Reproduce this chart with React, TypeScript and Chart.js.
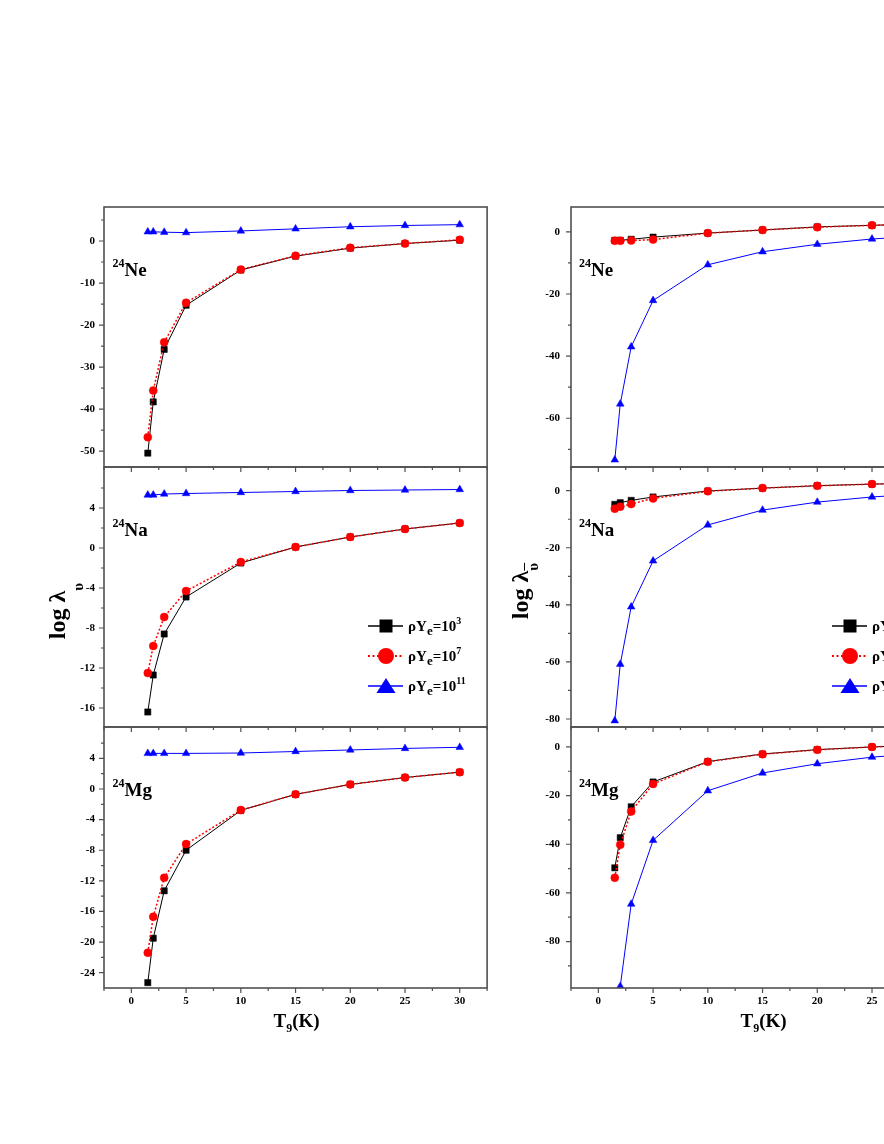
import React, { useEffect, useRef } from "react";
import { Chart, registerables } from "chart.js";

Chart.register(...registerables);

// ---------------- data ----------------
const T9 = [1.5, 2, 3, 5, 10, 15, 20, 25, 30];
const X_MIN = -2.5;
const X_MAX = 32.5;
const X_MAJOR_TICKS = [0, 5, 10, 15, 20, 25, 30];
const X_MINOR_TICKS = [-2.5, 2.5, 7.5, 12.5, 17.5, 22.5, 27.5, 32.5];
const DENSITY_EXPONENTS = ["3", "7", "11"];
const NUCLEI = ["Ne", "Na", "Mg"];
const MASS_NUMBER = "24";

// log lambda_nu  (left column)
const neNu1e3 = [-50.5, -38.3, -25.8, -15.3, -6.9, -3.6, -1.7, -0.6, 0.2];
const neNu1e7 = [-46.7, -35.6, -24.1, -14.7, -6.8, -3.5, -1.6, -0.6, 0.3];
const neNu1e11 = [2.2, 2.2, 2.1, 2.0, 2.4, 2.9, 3.4, 3.7, 3.9];

const naNu1e3 = [-16.4, -12.7, -8.6, -4.9, -1.5, 0.1, 1.1, 1.9, 2.5];
const naNu1e7 = [-12.5, -9.8, -6.9, -4.3, -1.4, 0.1, 1.1, 1.9, 2.5];
const naNu1e11 = [5.3, 5.3, 5.4, 5.45, 5.55, 5.65, 5.75, 5.8, 5.85];

const mgNu1e3 = [-25.3, -19.5, -13.3, -8.0, -2.8, -0.7, 0.6, 1.5, 2.2];
const mgNu1e7 = [-21.4, -16.7, -11.6, -7.2, -2.75, -0.7, 0.6, 1.5, 2.2];
const mgNu1e11 = [4.65, 4.65, 4.65, 4.65, 4.7, 4.9, 5.1, 5.3, 5.45];

// log lambda_antinu  (right column)
const neAnu1e3 = [-2.7, -2.7, -2.4, -1.7, -0.4, 0.6, 1.6, 2.1, 2.6];
const neAnu1e7 = [-2.9, -2.9, -2.8, -2.5, -0.4, 0.6, 1.5, 2.1, 2.6];
const neAnu1e11 = [-73.4, -55.4, -37.0, -22.1, -10.6, -6.4, -4.0, -2.3, -1.2];

const naAnu1e3 = [-4.8, -4.2, -3.4, -2.2, -0.1, 0.9, 1.75, 2.3, 2.7];
const naAnu1e7 = [-6.3, -5.6, -4.7, -2.7, -0.2, 0.9, 1.7, 2.3, 2.7];
const naAnu1e11 = [-80.6, -60.8, -40.7, -24.6, -12.0, -6.8, -4.0, -2.2, -1.0];

const mgAnu1e3 = [-49.7, -37.3, -24.6, -14.4, -6.0, -2.9, -1.1, 0.0, 0.8];
const mgAnu1e7 = [-53.8, -40.2, -26.5, -15.2, -6.1, -3.0, -1.2, 0.0, 0.8];
const mgAnu1e11 = [null, -98.4, -64.6, -38.4, -18.0, -10.7, -6.9, -4.2, -2.5];

// y tick values
const NE_NU_MAJOR = [0, -10, -20, -30, -40, -50];
const NE_NU_MINOR = [5, -5, -15, -25, -35, -45];
const NA_NU_MAJOR = [4, 0, -4, -8, -12, -16];
const NA_NU_MINOR = [6, 2, -2, -6, -10, -14];
const MG_NU_MAJOR = [4, 0, -4, -8, -12, -16, -20, -24];
const MG_NU_MINOR = [6, 2, -2, -6, -10, -14, -18, -22];
const NE_ANU_MAJOR = [0, -20, -40, -60];
const NE_ANU_MINOR = [-10, -30, -50, -70];
const NA_ANU_MAJOR = [0, -20, -40, -60, -80];
const NA_ANU_MINOR = [-10, -30, -50, -70];
const MG_ANU_MAJOR = [0, -20, -40, -60, -80];
const MG_ANU_MINOR = [-10, -30, -50, -70, -90];

// ---------------- styling / layout ----------------
const FONT = "'Liberation Serif', 'Times New Roman', serif";
const BLACK = "#000000";
const RED = "#ff0000";
const BLUE = "#0000ff";
const FRAME = "#505050";

const COL_CANVAS_LEFT = [50, 517];
const ROW_TOP = [207, 467, 727];
const ROW_BOTTOM = [467, 727, 988];
const CANVAS_W = 442;
const Y_AXIS_W = 54;
const PAD_R = 3;
const PAD_T = 7;
const BOTTOM_CANVAS_H = 300;
const Y_LABEL_PAD = [9, 11];

type PanelSpec = {
  col: number;
  row: number;
  s3: (number | null)[];
  s7: (number | null)[];
  s11: (number | null)[];
  yMin: number;
  yMax: number;
  yMajor: number[];
  yMinor: number[];
};

const PANELS: PanelSpec[] = [
  { col: 0, row: 0, s3: neNu1e3, s7: neNu1e7, s11: neNu1e11, yMin: -53.8, yMax: 8.1, yMajor: NE_NU_MAJOR, yMinor: NE_NU_MINOR },
  { col: 0, row: 1, s3: naNu1e3, s7: naNu1e7, s11: naNu1e11, yMin: -17.9, yMax: 8.1, yMajor: NA_NU_MAJOR, yMinor: NA_NU_MINOR },
  { col: 0, row: 2, s3: mgNu1e3, s7: mgNu1e7, s11: mgNu1e11, yMin: -26.0, yMax: 8.1, yMajor: MG_NU_MAJOR, yMinor: MG_NU_MINOR },
  { col: 1, row: 0, s3: neAnu1e3, s7: neAnu1e7, s11: neAnu1e11, yMin: -75.7, yMax: 8.0, yMajor: NE_ANU_MAJOR, yMinor: NE_ANU_MINOR },
  { col: 1, row: 1, s3: naAnu1e3, s7: naAnu1e7, s11: naAnu1e11, yMin: -82.8, yMax: 8.3, yMajor: NA_ANU_MAJOR, yMinor: NA_ANU_MINOR },
  { col: 1, row: 2, s3: mgAnu1e3, s7: mgAnu1e7, s11: mgAnu1e11, yMin: -99.1, yMax: 8.2, yMajor: MG_ANU_MAJOR, yMinor: MG_ANU_MINOR },
];

function framePlugin(p: PanelSpec) {
  return {
    id: "frameTicks",
    afterDraw(chart: any) {
      const { ctx, chartArea: a, scales } = chart;
      const x = scales.x;
      const y = scales.y;
      ctx.save();
      ctx.strokeStyle = FRAME;
      ctx.lineWidth = 1.6;
      ctx.strokeRect(a.left, a.top, a.right - a.left, a.bottom - a.top);
      ctx.beginPath();
      p.yMajor.forEach((v) => {
        const py = y.getPixelForValue(v);
        ctx.moveTo(a.left, py);
        ctx.lineTo(a.left - 5, py);
      });
      p.yMinor.forEach((v) => {
        const py = y.getPixelForValue(v);
        ctx.moveTo(a.left, py);
        ctx.lineTo(a.left - 3, py);
      });
      X_MAJOR_TICKS.forEach((v) => {
        const px = x.getPixelForValue(v);
        ctx.moveTo(px, a.bottom);
        ctx.lineTo(px, a.bottom + 5);
      });
      X_MINOR_TICKS.forEach((v) => {
        const px = x.getPixelForValue(v);
        ctx.moveTo(px, a.bottom);
        ctx.lineTo(px, a.bottom + 3);
      });
      ctx.lineWidth = 1.2;
      ctx.stroke();
      ctx.restore();
    },
  };
}

function Panel({ p }: { p: PanelSpec }) {
  const ref = useRef<HTMLCanvasElement | null>(null);
  const isBottom = p.row === 2;
  const top = ROW_TOP[p.row] - PAD_T;
  const panelH = ROW_BOTTOM[p.row] - ROW_TOP[p.row];
  const height = isBottom ? BOTTOM_CANVAS_H : panelH + 2 * PAD_T;
  const left = COL_CANVAS_LEFT[p.col];

  useEffect(() => {
    const canvas = ref.current;
    if (!canvas) return;
    const font = { family: FONT, size: 11, weight: "bold" as const };
    const toPts = (arr: (number | null)[]) => T9.map((x, i) => ({ x, y: arr[i] }));
    const chart = new Chart(canvas, {
      type: "line",
      data: {
        datasets: [
          {
            label: "1e7",
            data: toPts(p.s7) as any,
            borderColor: RED,
            backgroundColor: RED,
            borderWidth: 1.5,
            borderDash: [2, 2],
            pointStyle: "circle",
            pointRadius: 4,
            pointBackgroundColor: RED,
            pointBorderColor: RED,
            pointBorderWidth: 0.5,
            tension: 0,
          },
          {
            label: "1e3",
            data: toPts(p.s3) as any,
            borderColor: BLACK,
            backgroundColor: BLACK,
            borderWidth: 1,
            pointStyle: "rect",
            pointRadius: 4.4,
            pointBackgroundColor: BLACK,
            pointBorderColor: BLACK,
            pointBorderWidth: 0.5,
            tension: 0,
          },
          {
            label: "1e11",
            data: toPts(p.s11) as any,
            borderColor: BLUE,
            backgroundColor: BLUE,
            borderWidth: 1,
            pointStyle: "triangle",
            pointRadius: 4.4,
            pointBackgroundColor: BLUE,
            pointBorderColor: BLUE,
            pointBorderWidth: 0.5,
            tension: 0,
          },
        ],
      },
      options: {
        responsive: false,
        animation: false,
        devicePixelRatio: 1,
        events: [],
        layout: { padding: { top: PAD_T, right: PAD_R, bottom: isBottom ? 0 : PAD_T, left: 0 } },
        plugins: { legend: { display: false }, tooltip: { enabled: false } },
        scales: {
          x: {
            type: "linear",
            min: X_MIN,
            max: X_MAX,
            display: isBottom,
            grid: { display: false, drawTicks: false },
            border: { display: false },
            ticks: { font, color: BLACK, padding: 7, maxRotation: 0, minRotation: 0, autoSkip: false },
            afterBuildTicks: (s: any) => {
              s.ticks = X_MAJOR_TICKS.map((v) => ({ value: v }));
            },
            afterFit: (s: any) => {
              s.height = isBottom ? BOTTOM_CANVAS_H - PAD_T - panelH : 0;
              s.paddingLeft = 0;
              s.paddingRight = 0;
              s.paddingTop = 0;
              s.paddingBottom = 0;
            },
          },
          y: {
            type: "linear",
            min: p.yMin,
            max: p.yMax,
            grid: { display: false, drawTicks: false },
            border: { display: false },
            ticks: { font, color: BLACK, padding: Y_LABEL_PAD[p.col], autoSkip: false },
            afterBuildTicks: (s: any) => {
              s.ticks = p.yMajor.map((v) => ({ value: v }));
            },
            afterFit: (s: any) => {
              s.width = Y_AXIS_W;
              s.paddingTop = 0;
              s.paddingBottom = 0;
              s.paddingLeft = 0;
              s.paddingRight = 0;
            },
          },
        },
      } as any,
      plugins: [framePlugin(p)],
    });
    return () => chart.destroy();
  }, []);

  return (
    <canvas
      ref={ref}
      width={CANVAS_W}
      height={height}
      style={{ position: "absolute", left, top, width: CANVAS_W, height }}
    />
  );
}

const textBase: React.CSSProperties = {
  position: "absolute",
  fontFamily: FONT,
  fontWeight: "bold",
  color: "#000",
  whiteSpace: "nowrap",
};

function NucleusLabel({ x, baseline, name }: { x: number; baseline: number; name: string }) {
  return (
    <div style={{ ...textBase, left: x, top: baseline - 15.9, fontSize: 19, lineHeight: "19px" }}>
      <span style={{ fontSize: 12, verticalAlign: 9, lineHeight: 0 }}>{MASS_NUMBER}</span>
      {name}
    </div>
  );
}

function XTitle({ cx }: { cx: number }) {
  return (
    <div
      style={{
        ...textBase,
        left: cx - 60,
        width: 120,
        textAlign: "center",
        top: 1011,
        fontSize: 19,
        lineHeight: "19px",
      }}
    >
      T<span style={{ fontSize: 12, verticalAlign: -5, lineHeight: 0 }}>9</span>(K)
    </div>
  );
}

function YTitle({ cx, cy, bar, drop }: { cx: number; cy: number; bar: boolean; drop: number }) {
  return (
    <div
      style={{
        ...textBase,
        left: cx - 70,
        top: cy - 15,
        width: 140,
        height: 30,
        lineHeight: "30px",
        fontSize: 24,
        textAlign: "center",
        transform: "rotate(-90deg)",
        transformOrigin: "50% 50%",
      }}
    >
      log λ
      <span
        style={{
          fontSize: 15,
          verticalAlign: -drop,
          lineHeight: 0,
          textDecoration: bar ? "overline" : "none",
        }}
      >
        υ
      </span>
    </div>
  );
}

const LEGEND_ROWS_Y = [626, 656, 686];

function LegendMarker({ kind, color }: { kind: number; color: string }) {
  if (kind === 0) return <rect x={13.5} y={3.5} width={13} height={13} fill={color} />;
  if (kind === 1) return <circle cx={20} cy={10} r={8} fill={color} />;
  return <polygon points="10.5,17 29.5,17 20,2" fill={color} />;
}

function Legend({ markerX }: { markerX: number }) {
  const colors = [BLACK, RED, BLUE];
  return (
    <>
      {DENSITY_EXPONENTS.map((exp, i) => (
        <React.Fragment key={exp}>
          <svg
            width={40}
            height={20}
            style={{ position: "absolute", left: markerX - 20, top: LEGEND_ROWS_Y[i] - 10 }}
          >
            <line
              x1={2}
              y1={10}
              x2={37}
              y2={10}
              stroke={colors[i]}
              strokeWidth={i === 1 ? 1.8 : 1.5}
              strokeDasharray={i === 1 ? "2 2.5" : undefined}
            />
            <LegendMarker kind={i} color={colors[i]} />
          </svg>
          <div
            style={{
              ...textBase,
              left: markerX + 22,
              top: LEGEND_ROWS_Y[i] + 5.5 - 12.6,
              fontSize: 15,
              lineHeight: "15px",
            }}
          >
            ρY<span style={{ fontSize: 13, verticalAlign: -4, lineHeight: 0 }}>e</span>=10
            <span style={{ fontSize: 10, verticalAlign: 7, lineHeight: 0 }}>{exp}</span>
          </div>
        </React.Fragment>
      ))}
    </>
  );
}

const LABEL_X = [112.5, 579];
const LABEL_BASELINES = [276, 536, 796];

export default function App() {
  return (
    <div
      style={{
        position: "fixed",
        left: 0,
        top: 0,
        width: 884,
        height: 1144,
        overflow: "hidden",
        background: "#ffffff",
      }}
    >
      {PANELS.map((p) => (
        <Panel key={`${p.col}-${p.row}`} p={p} />
      ))}
      {[0, 1].map((c) =>
        NUCLEI.map((n, r) => (
          <NucleusLabel key={`${c}-${n}`} x={LABEL_X[c]} baseline={LABEL_BASELINES[r]} name={n} />
        ))
      )}
      <XTitle cx={296.5} />
      <XTitle cx={763.5} />
      <YTitle cx={57} cy={611} bar={false} drop={18} />
      <YTitle cx={520} cy={591} bar={true} drop={10} />
      <Legend markerX={386} />
      <Legend markerX={850} />
    </div>
  );
}
